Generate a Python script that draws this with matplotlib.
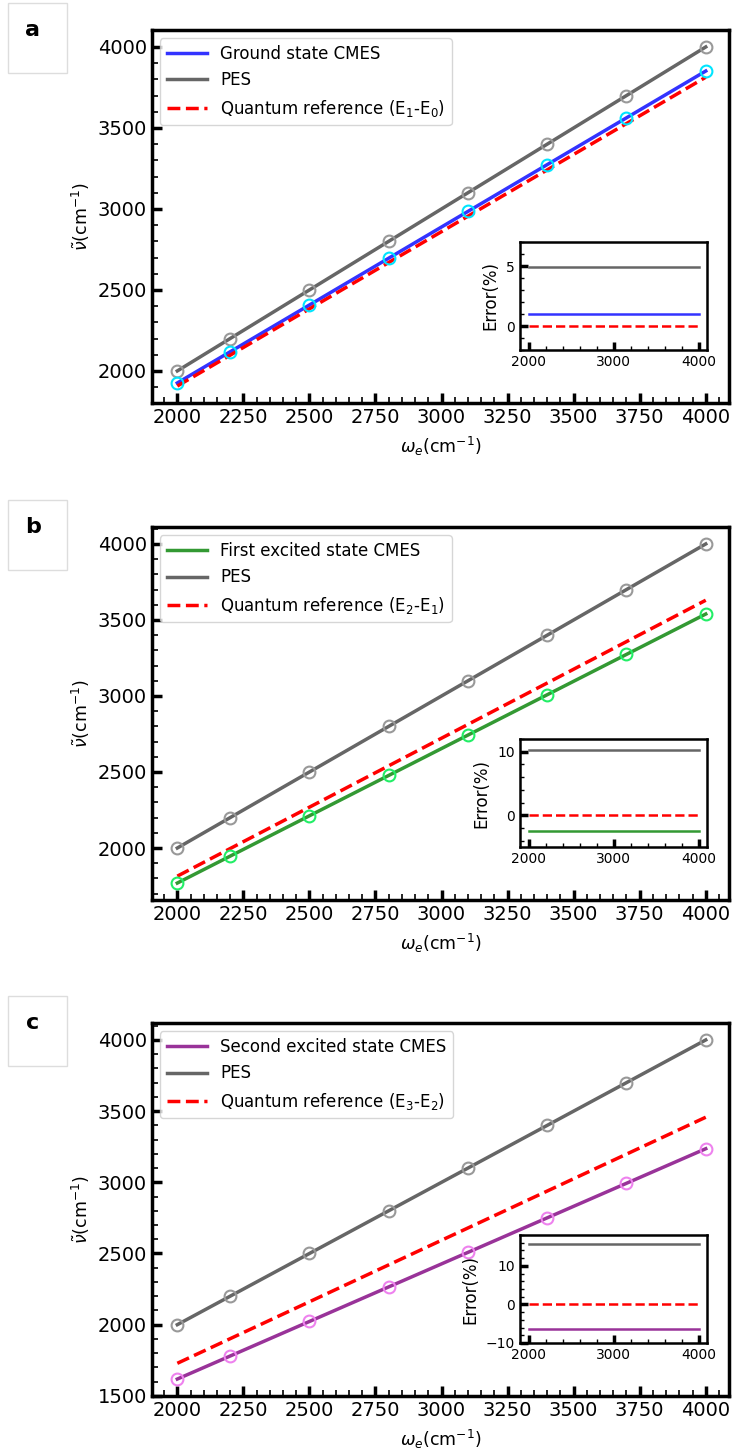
import numpy as np
import matplotlib
matplotlib.use('Agg')
import matplotlib.pyplot as plt
from matplotlib.patches import Rectangle
from matplotlib.ticker import MultipleLocator

# omega_e values (cm^-1)
omega_e = [2000, 2200, 2500, 2800, 3100, 3400, 3700, 4000]
pes = [2000, 2200, 2500, 2800, 3100, 3400, 3700, 4000]

# panel a
cmes_a = [1925.7, 2118.2, 2407.0, 2695.9, 2984.8, 3273.6, 3562.5, 3851.3]
quant_a = [1906.6, 2097.2, 2383.2, 2669.2, 2955.2, 3241.2, 3527.2, 3813.2]
# panel b
cmes_b = [1769.5, 1946.5, 2211.9, 2477.3, 2742.8, 3008.2, 3273.6, 3539.0]
quant_b = [1814.9, 1996.4, 2268.6, 2540.8, 2813.1, 3085.3, 3357.5, 3629.8]
# panel c
cmes_c = [1618.0, 1779.8, 2022.5, 2265.2, 2507.8, 2750.5, 2993.2, 3235.9]
quant_c = [1728.6, 1901.5, 2160.8, 2420.1, 2679.3, 2938.6, 3197.9, 3457.2]

# inset errors (%)
err_x = [2000, 4000]
err_pes_a = [4.9, 4.9]
err_cmes_a = [1.0, 1.0]
err_pes_b = [10.2, 10.2]
err_cmes_b = [-2.5, -2.5]
err_pes_c = [15.7, 15.7]
err_cmes_c = [-6.3, -6.3]
err_ref = [0, 0]

W, H = 732, 1453
fig = plt.figure(figsize=(W/100, H/100), dpi=100)

def px_axes(left, top, right, bottom):
    return fig.add_axes([left/W, 1-bottom/H, (right-left)/W, (bottom-top)/H])

def style_axes(ax, lw, maj_len, maj_w, min_len, min_w, fs):
    for s in ax.spines.values():
        s.set_linewidth(lw)
    ax.tick_params(which='major', direction='in', length=maj_len, width=maj_w, labelsize=fs)
    ax.tick_params(which='minor', direction='in', length=min_len, width=min_w)

def panel(top, letter, cmes, quant, label, ref_label, line_c, mark_c,
          err_pes, err_cmes, ylim_in, ymaj_in):
    # letter box
    fig.patches.append(Rectangle((8/W, 1-(top-27+70)/H), 59/W, 70/H,
                                 transform=fig.transFigure, fill=False,
                                 edgecolor='#dddddd', lw=1))
    fig.text(33/W, 1-top/H, letter, fontsize=16, fontweight='bold',
             ha='center', va='center')

    ax = px_axes(151.7, top, 729, top+373)
    ax.plot(omega_e, cmes, color=line_c, lw=2.5, label=label)
    ax.plot(omega_e, pes, color='#666666', lw=2.5, label='PES')
    ax.plot(omega_e, quant, color='red', lw=2.5, ls='--', label=ref_label)
    ax.plot(omega_e, pes, 'o', mfc='none', mec='#999999', ms=8.5, mew=1.5)
    ax.plot(omega_e, cmes, 'o', mfc='none', mec=mark_c, ms=8.5, mew=1.5)
    ax.set_xlim(1903, 4088)
    ax.xaxis.set_major_locator(MultipleLocator(250))
    ax.xaxis.set_minor_locator(MultipleLocator(50))
    ax.yaxis.set_major_locator(MultipleLocator(500))
    ax.yaxis.set_minor_locator(MultipleLocator(100))
    style_axes(ax, 2.5, 7, 2.5, 4, 1.2, 14)
    ax.set_xlabel(r'$\omega_e$(cm$^{-1}$)', fontsize=12.5, labelpad=6)
    ax.set_ylabel(r'$\tilde{\nu}$(cm$^{-1}$)', fontsize=12.5)
    ax.legend(loc='upper left', fontsize=12, handlelength=2.4)

    ins = px_axes(520, top+212, 707, top+320)
    ins.plot(err_x, err_pes, color='#666666', lw=1.8)
    ins.plot(err_x, err_cmes, color=line_c, lw=1.8)
    ins.plot(err_x, err_ref, color='red', lw=1.8, ls='--')
    ins.set_ylim(ylim_in)
    ins.xaxis.set_major_locator(MultipleLocator(1000))
    ins.xaxis.set_minor_locator(MultipleLocator(200))
    ins.yaxis.set_major_locator(MultipleLocator(ymaj_in))
    ins.yaxis.set_minor_locator(MultipleLocator(ymaj_in/5))
    style_axes(ins, 1.8, 6, 2.5, 3, 1, 10)
    ins.set_ylabel('Error(%)', fontsize=12, labelpad=5)
    return ax

panel(30, 'a', cmes_a, quant_a, 'Ground state CMES',
      'Quantum reference (E$_1$-E$_0$)', '#3333ff', '#00e5ff',
      err_pes_a, err_cmes_a, (-2, 7), 5)
panel(527, 'b', cmes_b, quant_b, 'First excited state CMES',
      'Quantum reference (E$_2$-E$_1$)', '#339933', '#22ee66',
      err_pes_b, err_cmes_b, (-5, 12), 10)
panel(1023, 'c', cmes_c, quant_c, 'Second excited state CMES',
      'Quantum reference (E$_3$-E$_2$)', '#993399', '#ee82ee',
      err_pes_c, err_cmes_c, (-10, 18), 10)

plt.savefig('out.png', dpi=100)
